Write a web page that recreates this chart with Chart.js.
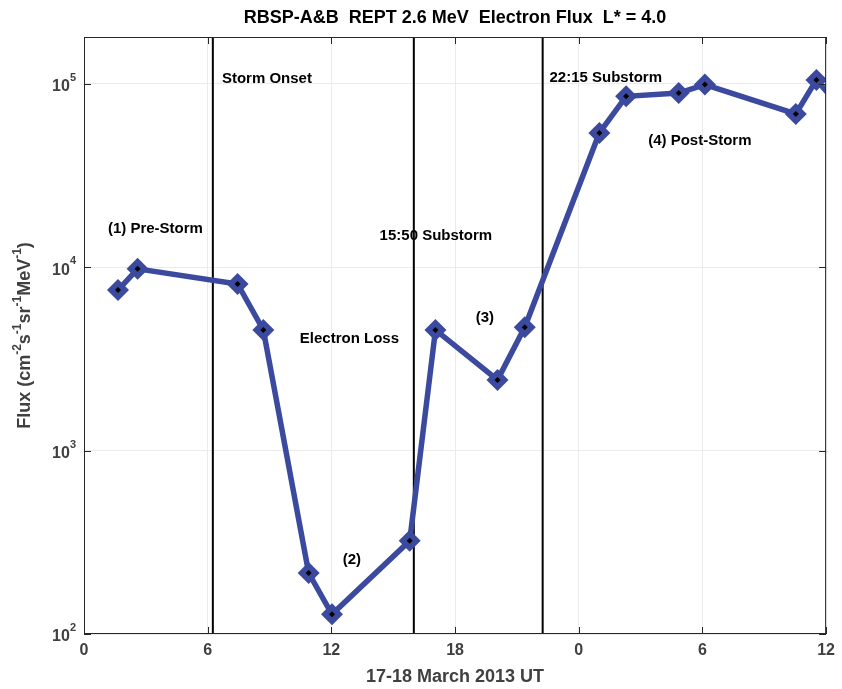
<!DOCTYPE html>
<html>
<head>
<meta charset="utf-8">
<script src="https://cdn.jsdelivr.net/npm/chart.js@4.4.1/dist/chart.umd.min.js"></script>
<style>
  html, body { margin: 0; padding: 0; background: #fff; }
  #wrap { width: 842px; height: 689px; }
</style>
</head>
<body>
<div id="wrap"><canvas id="chart" width="842" height="689"></canvas></div>
<script>
// REPT 2.6 MeV flux samples (hours since 17 March 00 UT)
const hours = [1.65, 2.6, 7.45, 8.7, 10.9, 12.03, 15.8, 17.05, 20.06, 21.38, 25.0, 26.3, 28.85, 30.12, 34.53, 35.53, 36.8];
const flux  = [7500, 9800, 8100, 4550, 215, 128, 322, 4550, 2430, 4700, 54000, 85500, 89000, 99000, 68500, 105000, 72000];

// storm onset, 15:50 substorm, 22:15 substorm
const eventHours = [6.25, 16.0, 22.25];

const xTickHours  = [0, 6, 12, 18, 24, 30, 36];
const xTickLabels = ['0', '6', '12', '18', '0', '6', '12'];
const yTickValues = [1e2, 1e3, 1e4, 1e5];
const yTickExps   = ['2', '3', '4', '5'];

const Y_MIN = 100, Y_MAX = 1.8e5;

// text annotations anchored in data coordinates (left edge, vertical middle)
const noteTexts = ['Storm Onset', '(1) Pre-Storm', '15:50 Substorm', 'Electron Loss', '(2)', '(3)', '22:15 Substorm', '(4) Post-Storm'];
const noteHours = [6.69, 1.16, 14.34, 10.47, 12.55, 19.0, 22.58, 27.37];
const noteFlux  = [107000, 16200, 14800, 4070, 253, 5290, 108000, 49100];

const TITLE = 'RBSP-A&B  REPT 2.6 MeV  Electron Flux  L* = 4.0';
const XTITLE = '17-18 March 2013 UT';
const YTITLE = [['Flux (cm', 0], ['-2', 1], ['s', 0], ['-1', 1], ['sr', 0], ['-1', 1], ['MeV', 0], ['-1', 1], [')', 0]];

const FONT = '"Liberation Sans", Arial, Helvetica, sans-serif';
const BLUE = '#3b4a9e';
const AXIS_GREY = '#404040';

Chart.defaults.font.family = FONT;

const decorations = {
  id: 'decorations',
  afterDraw(chart) {
    const { ctx, chartArea: a, scales: { x, y } } = chart;
    ctx.save();

    // axes box + inward ticks
    ctx.strokeStyle = '#262626';
    ctx.lineWidth = 1;
    ctx.strokeRect(a.left + 0.5, a.top + 0.5, a.right - a.left - 1, a.bottom - a.top - 1);
    ctx.beginPath();
    xTickHours.forEach(h => {
      const px = Math.round(x.getPixelForValue(h)) + 0.5;
      ctx.moveTo(px, a.bottom); ctx.lineTo(px, a.bottom - 7);
      ctx.moveTo(px, a.top);    ctx.lineTo(px, a.top + 7);
    });
    yTickValues.forEach(v => {
      const py = Math.round(y.getPixelForValue(v)) + 0.5;
      ctx.moveTo(a.left, py);  ctx.lineTo(a.left + 7, py);
      ctx.moveTo(a.right, py); ctx.lineTo(a.right - 7, py);
    });
    ctx.stroke();

    // y tick labels 10^n
    ctx.fillStyle = AXIS_GREY;
    ctx.textBaseline = 'middle';
    yTickValues.forEach((v, i) => {
      const py = y.getPixelForValue(v);
      ctx.font = 'bold 11px ' + FONT;
      const ew = ctx.measureText(yTickExps[i]).width;
      ctx.textAlign = 'left';
      const right = a.left - 8;
      ctx.fillText(yTickExps[i], right - ew, py - 6);
      ctx.font = 'bold 16px ' + FONT;
      ctx.textAlign = 'right';
      ctx.fillText('10', right - ew, py + 3);
    });

    // y axis title with superscripts
    ctx.save();
    ctx.translate(25, (a.top + a.bottom) / 2);
    ctx.rotate(-Math.PI / 2);
    let total = 0;
    YTITLE.forEach(([t, sup]) => {
      ctx.font = (sup ? 'bold 12px ' : 'bold 18px ') + FONT;
      total += ctx.measureText(t).width;
    });
    let cx = -total / 2;
    ctx.textAlign = 'left';
    YTITLE.forEach(([t, sup]) => {
      ctx.font = (sup ? 'bold 12px ' : 'bold 18px ') + FONT;
      ctx.fillText(t, cx, sup ? -7 : 0);
      cx += ctx.measureText(t).width;
    });
    ctx.restore();

    // x axis title
    ctx.font = 'bold 18px ' + FONT;
    ctx.textAlign = 'center';
    ctx.fillText(XTITLE, (a.left + a.right) / 2, 677);

    // chart title
    ctx.fillStyle = '#000';
    ctx.font = 'bold 18px ' + FONT;
    ctx.fillText(TITLE, (a.left + a.right) / 2, 18);

    // annotations
    ctx.font = 'bold 15px ' + FONT;
    ctx.textAlign = 'left';
    noteTexts.forEach((t, i) => {
      ctx.fillText(t, x.getPixelForValue(noteHours[i]), y.getPixelForValue(noteFlux[i]));
    });

    ctx.restore();
  }
};

const points = hours.map((h, i) => ({ x: h, y: flux[i] }));

const eventSets = eventHours.map(h => ({
  data: [{ x: h, y: Y_MIN }, { x: h, y: Y_MAX }],
  borderColor: '#000',
  borderWidth: 2,
  pointRadius: 0,
  order: 3,
}));

new Chart(document.getElementById('chart'), {
  type: 'line',
  data: {
    datasets: [
      {
        data: points,
        showLine: false,
        pointStyle: 'rectRot',
        pointRadius: 3,
        pointBackgroundColor: '#000',
        pointBorderWidth: 0,
        order: 1,
      },
      {
        data: points,
        borderColor: BLUE,
        borderWidth: 5.5,
        pointStyle: 'rectRot',
        pointRadius: 11,
        pointBackgroundColor: BLUE,
        pointBorderWidth: 0,
        order: 2,
      },
      ...eventSets,
    ],
  },
  options: {
    responsive: false,
    animation: false,
    layout: { padding: { top: 37, right: 15, left: 0, bottom: 0 } },
    plugins: { legend: { display: false }, tooltip: { enabled: false } },
    scales: {
      x: {
        type: 'linear',
        min: 0,
        max: 36,
        afterBuildTicks(scale) { scale.ticks = xTickHours.map(v => ({ value: v })); },
        afterFit(scale) { scale.height = 55; },
        grid: { color: '#ebebeb', drawTicks: false },
        border: { display: false },
        ticks: {
          color: AXIS_GREY,
          font: { size: 16, weight: 'bold' },
          padding: 7,
          maxRotation: 0,
          callback: v => xTickLabels[xTickHours.indexOf(v)],
        },
      },
      y: {
        type: 'logarithmic',
        min: Y_MIN,
        max: Y_MAX,
        afterBuildTicks(scale) { scale.ticks = yTickValues.map(v => ({ value: v })); },
        afterFit(scale) { scale.width = 84; },
        grid: { color: '#ebebeb', drawTicks: false },
        border: { display: false },
        ticks: { display: false },
      },
    },
  },
  plugins: [decorations],
});
</script>
</body>
</html>
